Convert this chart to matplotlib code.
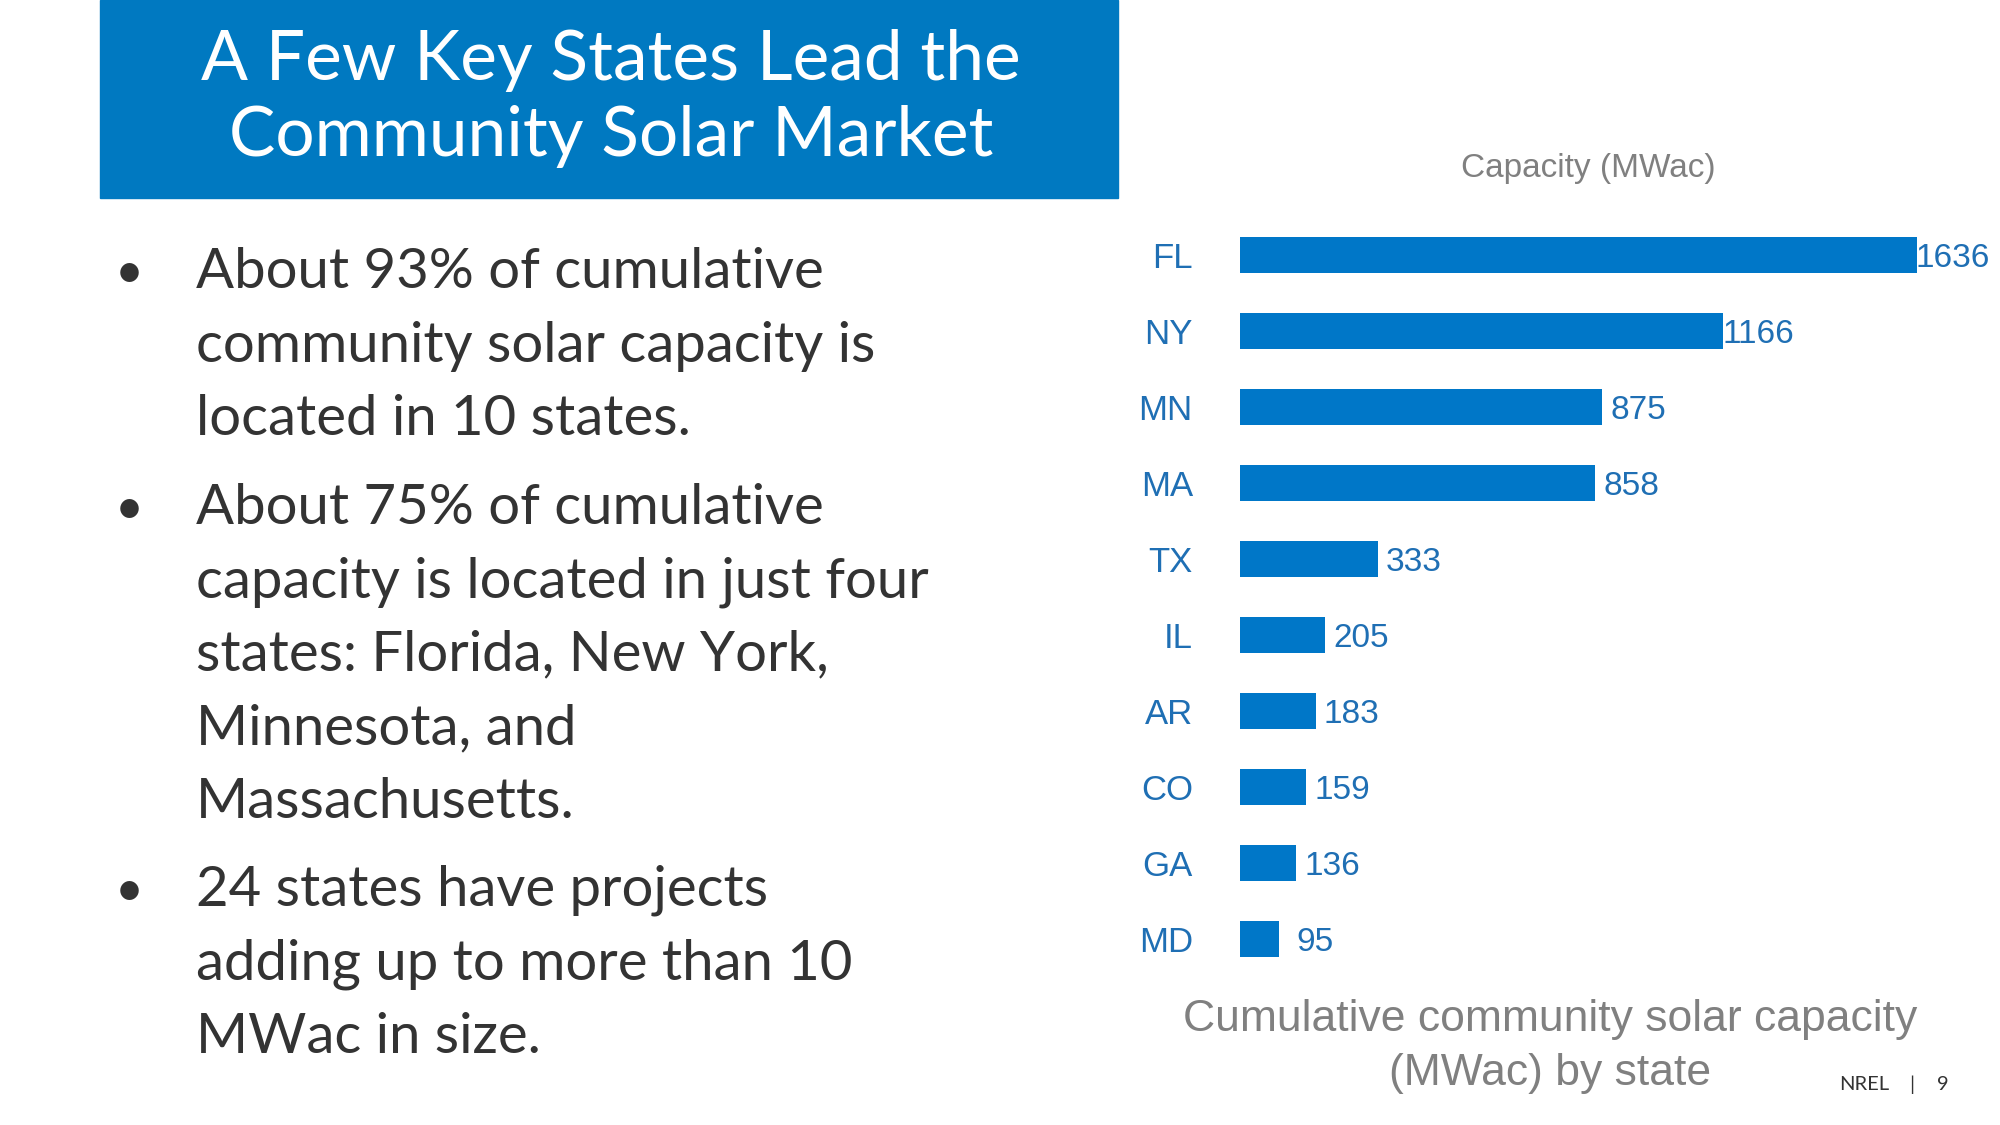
import matplotlib.pyplot as plt
from matplotlib.patches import Rectangle

# chart data
states = ['FL', 'NY', 'MN', 'MA', 'TX', 'IL', 'AR', 'CO', 'GA', 'MD']
capacity = [1636, 1166, 875, 858, 333, 205, 183, 159, 136, 95]

title_lines = ['A Few Key States Lead the', 'Community Solar Market']
bullets = [
    ['About 93% of cumulative', 'community solar capacity is', 'located in 10 states.'],
    ['About 75% of cumulative', 'capacity is located in just four', 'states: Florida, New York,',
     'Minnesota, and', 'Massachusetts.'],
    ['24 states have projects', 'adding up to more than 10', 'MWac in size.'],
]

BLUE = '#0079c1'
BAR = '#0077c8'
LABEL = '#1f6fb4'
GRAY = '#808080'
TEXT = '#333333'

W, H = 2000, 1125
fig = plt.figure(figsize=(20, 11.25), dpi=100)

def fx(x):
    return x / W

def fy(y):
    return 1 - y / H

# title banner
fig.patches.append(Rectangle((fx(100), fy(198)), fx(1018), 198 / H,
                             transform=fig.transFigure, color=BLUE, zorder=0))
for i, line in enumerate(title_lines):
    fig.text(fx(611), fy(60 + 76 * i), line, color='white', fontsize=50,
             family='Lato', ha='center', va='center')

# bullets
base = 288
step = 73.5
for para in bullets:
    fig.text(fx(129), fy(base), '\u2022', color=TEXT, fontsize=36,
             family='Lato', ha='center', va='baseline')
    for j, line in enumerate(para):
        fig.text(fx(196), fy(base + step * j), line, color=TEXT, fontsize=40.5,
                 family='Lato', va='baseline')
    base += step * len(para) + 15

# bar chart
ax = fig.add_axes([fx(1240), fy(977), fx(677), (977 - 217) / H])
pos = list(range(len(states)))
ax.barh(pos, capacity, height=0.48, color=BAR)
ax.set_xlim(0, 1636)
ax.set_ylim(len(states) - 0.5, -0.5)
ax.set_yticks(pos)
ax.set_yticklabels(states, color=LABEL, fontsize=25, family='Liberation Sans')
ax.tick_params(axis='y', length=0, pad=34)
ax.set_xticks([])
for s in ax.spines.values():
    s.set_visible(False)
for p, v in zip(pos, capacity):
    ax.annotate(str(v), (v, p), xytext=(26, 0), textcoords='offset points',
                ha='center', va='center_baseline', color=LABEL, fontsize=24,
                family='Liberation Sans', annotation_clip=False)

fig.text(fx(1588), fy(168), 'Capacity (MWac)', color=GRAY, fontsize=24,
         family='Liberation Sans', ha='center', va='center')
fig.text(fx(1550), fy(1020), 'Cumulative community solar capacity', color=GRAY,
         fontsize=32, family='Liberation Sans', ha='center', va='center')
fig.text(fx(1550), fy(1073), '(MWac) by state', color=GRAY,
         fontsize=32, family='Liberation Sans', ha='center', va='center')

fig.text(fx(1864), fy(1085), 'NREL', color=TEXT, fontsize=14.5, family='Lato',
         ha='center', va='center')
fig.text(fx(1912), fy(1085), '|', color=TEXT, fontsize=14.5, family='Lato',
         ha='center', va='center')
fig.text(fx(1943), fy(1085), '9', color=TEXT, fontsize=14.5, family='Lato',
         ha='center', va='center')

fig.savefig('out.png', dpi=100, facecolor='white')
